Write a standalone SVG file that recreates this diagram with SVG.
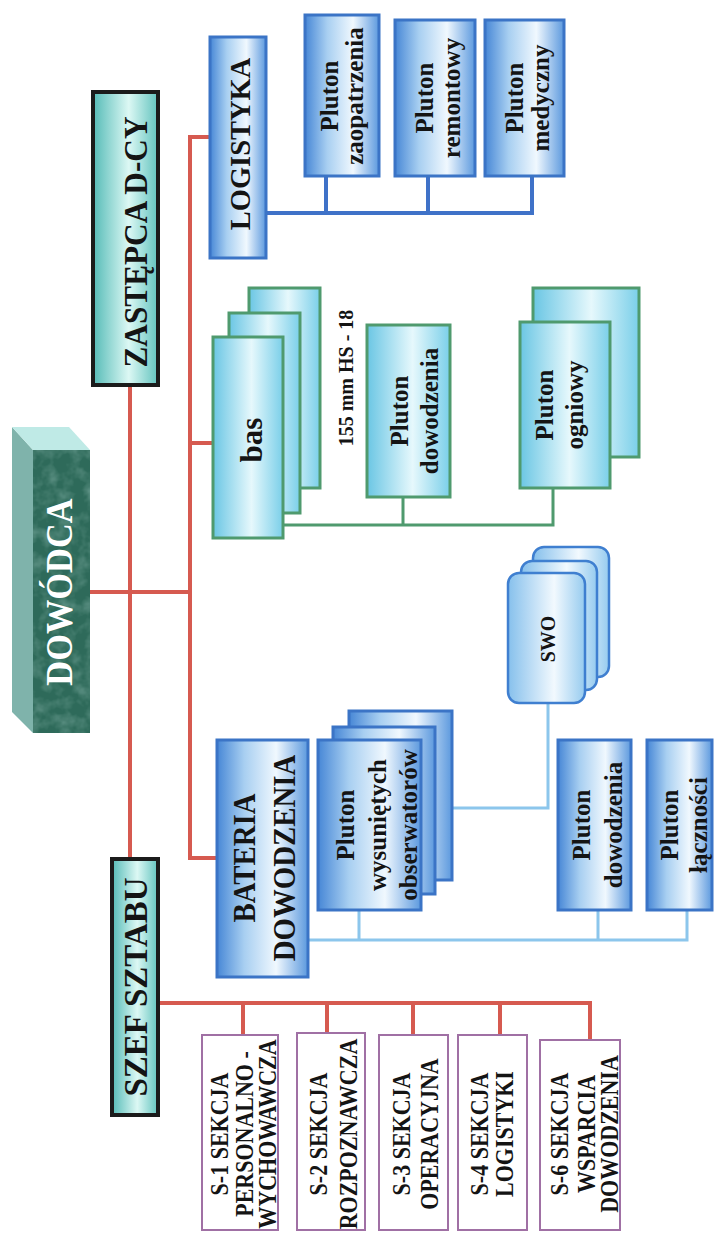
<svg xmlns="http://www.w3.org/2000/svg" width="717" height="1234" viewBox="0 0 717 1234">
  <defs>
    <style>
      .t { font-family: 'Liberation Serif', 'Times New Roman', serif; font-weight: bold; text-anchor: middle; fill: #141414; }
      .blue { fill: url(#gBlue); stroke: #3b74c6; stroke-width: 3; }
      .cyan { fill: url(#gCyan); stroke: #4f9a6e; stroke-width: 3; }
      .teal { fill: url(#gTeal); stroke: #1b1b1b; stroke-width: 4; }
      .sec { fill: #ffffff; stroke: #a070a4; stroke-width: 2; }
      .swo { fill: url(#gSwo); stroke: #3f7fd0; stroke-width: 2.5; }
      .red { stroke: #d65a50; stroke-width: 4; fill: none; }
      .navy { stroke: #3f72c8; stroke-width: 4; fill: none; }
      .green { stroke: #4f9a6e; stroke-width: 3; fill: none; }
      .sky { stroke: #8cc6ec; stroke-width: 3; fill: none; }
    </style>
    <linearGradient id="gBlue" x1="0" y1="0" x2="1" y2="0">
      <stop offset="0" stop-color="#4787d6"/>
      <stop offset="0.3" stop-color="#a8cff1"/>
      <stop offset="0.65" stop-color="#f0f8fe"/>
      <stop offset="1" stop-color="#5c99de"/>
    </linearGradient>
    <linearGradient id="gCyan" x1="0" y1="0" x2="1" y2="0">
      <stop offset="0" stop-color="#6ac6e4"/>
      <stop offset="0.55" stop-color="#e6f8fc"/>
      <stop offset="1" stop-color="#7acfe9"/>
    </linearGradient>
    <linearGradient id="gTeal" x1="0" y1="0" x2="1" y2="0">
      <stop offset="0" stop-color="#55bbb7"/>
      <stop offset="0.55" stop-color="#dcf8f4"/>
      <stop offset="1" stop-color="#62c3be"/>
    </linearGradient>
    <linearGradient id="gSwo" x1="0" y1="0" x2="1" y2="0">
      <stop offset="0" stop-color="#86c0ec"/>
      <stop offset="0.6" stop-color="#f2f9fe"/>
      <stop offset="1" stop-color="#96cbef"/>
    </linearGradient>
    <filter id="mottle" x="0" y="0" width="100%" height="100%">
      <feTurbulence type="fractalNoise" baseFrequency="0.07" numOctaves="3" seed="4"/>
      <feColorMatrix type="matrix" values="0 0 0 0 0.55  0 0 0 0 0.8  0 0 0 0 0.75  0 0 0 1.1 -0.45"/>
    </filter>
  </defs>

  <rect width="717" height="1234" fill="#ffffff"/>

  <!-- connectors -->
  <g id="connectors">
    <!-- command line (red) -->
    <path class="red" d="M130 385 V859"/>
    <path class="red" d="M90 592 H190"/>
    <path class="red" d="M210 137 H190 V858 H217"/>
    <path class="red" d="M190 443 H213"/>
    <path class="red" d="M158 1003 H590 V1040 M243 1003 V1035 M327 1003 V1033 M413 1003 V1035 M500 1003 V1035"/>
    <!-- logistics -->
    <path class="navy" d="M266 213 H532 V176 M326 213 V176 M428 213 V176"/>
    <!-- bas -->
    <path class="green" d="M283 525 H553 V488 M403 525 V497"/>
    <!-- command battery -->
    <path class="sky" d="M308 940 H687 V910 M359 940 V910 M598 940 V910"/>
    <path class="sky" d="M452 808 H548 V703"/>
  </g>

  <!-- commander block -->
  <g id="dowodca">
    <polygon points="12,427 33,450 33,733 12,712" fill="#7fb3ab"/>
    <polygon points="12,427 69,427 90,450 33,450" fill="#bfeae6"/>
    <rect x="33" y="450" width="57" height="283" fill="#2e6a5a"/>
    <rect x="33" y="450" width="57" height="283" filter="url(#mottle)" opacity="0.55"/>
    <text class="t" font-size="37" style="fill:#ffffff" transform="translate(61,592) rotate(-90) scale(0.93,1)" y="11">DOWÓDCA</text>
  </g>

  <g id="zastepca">
    <rect class="teal" x="93" y="92" width="65" height="293"/>
    <text class="t" font-size="34" transform="translate(125.5,242) rotate(-90) scale(0.92,1)" y="21.5">ZASTĘPCA D-CY</text>
  </g>

  <g id="szef-sztabu">
    <rect class="teal" x="112" y="859" width="46" height="256"/>
    <text class="t" font-size="33" transform="translate(135,987) rotate(-90)" y="12">SZEF SZTABU</text>
  </g>

  <!-- logistics -->
  <g id="logistyka">
    <rect class="blue" x="210" y="37" width="56" height="221"/>
    <text class="t" font-size="30" transform="translate(238,144) rotate(-90) scale(0.95,1)" y="12">LOGISTYKA</text>
  </g>
  <g id="pluton-zaopatrzenia">
    <rect class="blue" x="305" y="15" width="74" height="161"/>
    <text class="t" font-size="25" transform="translate(342,96) rotate(-90)"><tspan x="0" y="-4">Pluton</tspan><tspan x="0" y="21">zaopatrzenia</tspan></text>
  </g>
  <g id="pluton-remontowy">
    <rect class="blue" x="395" y="20" width="80" height="156"/>
    <text class="t" font-size="25" transform="translate(435,98) rotate(-90)"><tspan x="0" y="-2">Pluton</tspan><tspan x="0" y="25">remontowy</tspan></text>
  </g>
  <g id="pluton-medyczny">
    <rect class="blue" x="485" y="20" width="79" height="156"/>
    <text class="t" font-size="25" transform="translate(524.5,98) rotate(-90)"><tspan x="0" y="-1.5">Pluton</tspan><tspan x="0" y="24.5">medyczny</tspan></text>
  </g>

  <!-- artillery battalion -->
  <g id="bas">
    <rect class="cyan" x="249" y="288" width="71" height="200"/>
    <rect class="cyan" x="229" y="313" width="71" height="200"/>
    <rect class="cyan" x="213" y="337" width="70" height="201"/>
    <text class="t" font-size="31" transform="translate(248,440) rotate(-90)" y="14">bas</text>
  </g>
  <text id="kaliber" class="t" font-size="20" transform="translate(347,378) rotate(-90)" y="6">155 mm HS - 18</text>
  <g id="pluton-dowodzenia-bas">
    <rect class="cyan" x="367" y="325" width="83" height="172"/>
    <text class="t" font-size="25" transform="translate(408.5,411) rotate(-90)"><tspan x="0" y="-0.5">Pluton</tspan><tspan x="0" y="29.5">dowodzenia</tspan></text>
  </g>
  <g id="pluton-ogniowy">
    <rect class="cyan" x="533" y="288" width="106" height="169"/>
    <rect class="cyan" x="520" y="322" width="90" height="166"/>
    <text class="t" font-size="25" transform="translate(565,405) rotate(-90)"><tspan x="0" y="-12">Pluton</tspan><tspan x="0" y="18">ogniowy</tspan></text>
  </g>

  <!-- command battery -->
  <g id="bateria-dowodzenia">
    <rect class="blue" x="217" y="740" width="91" height="237"/>
    <text class="t" font-size="32" transform="translate(262.5,858) rotate(-90) scale(0.9,1)"><tspan x="0" y="-7.5">BATERIA</tspan><tspan x="0" y="32.5">DOWODZENIA</tspan></text>
  </g>
  <g id="pluton-obserwatorow">
    <rect class="blue" x="349" y="711" width="103" height="169"/>
    <rect class="blue" x="333" y="727" width="102" height="167"/>
    <rect class="blue" x="318" y="740" width="103" height="170"/>
    <text class="t" font-size="25" transform="translate(369.5,825) rotate(-90)"><tspan x="0" y="-15.5">Pluton</tspan><tspan x="0" y="16.5">wysuniętych</tspan><tspan x="0" y="47">obserwatorów</tspan></text>
  </g>
  <g id="swo">
    <rect class="swo" x="533" y="547" width="76" height="130" rx="11"/>
    <rect class="swo" x="521" y="561" width="76" height="129" rx="11"/>
    <rect class="swo" x="508" y="573" width="77" height="130" rx="11"/>
    <text class="t" font-size="20" transform="translate(546.5,639) rotate(-90)" y="8.5">SWO</text>
  </g>
  <g id="pluton-dowodzenia-bd">
    <rect class="blue" x="558" y="740" width="73" height="170"/>
    <text class="t" font-size="25" transform="translate(594.5,825) rotate(-90)"><tspan x="0" y="-4.5">Pluton</tspan><tspan x="0" y="27.5">dowodzenia</tspan></text>
  </g>
  <g id="pluton-lacznosci">
    <rect class="blue" x="647" y="740" width="65" height="170"/>
    <text class="t" font-size="25" transform="translate(679.5,825) rotate(-90)"><tspan x="0" y="-1.5">Pluton</tspan><tspan x="0" y="27.5">łączności</tspan></text>
  </g>

  <!-- staff sections -->
  <g id="s1">
    <rect class="sec" x="202" y="1035" width="76" height="195"/>
    <text class="t" font-size="25" transform="translate(240,1134) rotate(-90) scale(0.88,1)"><tspan x="0" y="-12">S-1 SEKCJA</tspan><tspan x="0" y="13">PERSONALNO -</tspan><tspan x="0" y="36.5">WYCHOWAWCZA</tspan></text>
  </g>
  <g id="s2">
    <rect class="sec" x="297" y="1033" width="68" height="197"/>
    <text class="t" font-size="25" transform="translate(331,1134) rotate(-90) scale(0.88,1)"><tspan x="0" y="-4">S-2 SEKCJA</tspan><tspan x="0" y="26">ROZPOZNAWCZA</tspan></text>
  </g>
  <g id="s3">
    <rect class="sec" x="379" y="1035" width="69" height="195"/>
    <text class="t" font-size="25" transform="translate(413.5,1134) rotate(-90) scale(0.88,1)"><tspan x="0" y="-3.5">S-3 SEKCJA</tspan><tspan x="0" y="24.5">OPERACYJNA</tspan></text>
  </g>
  <g id="s4">
    <rect class="sec" x="458" y="1035" width="69" height="195"/>
    <text class="t" font-size="25" transform="translate(492.5,1134) rotate(-90) scale(0.88,1)"><tspan x="0" y="-4.5">S-4 SEKCJA</tspan><tspan x="0" y="20.5">LOGISTYKI</tspan></text>
  </g>
  <g id="s6">
    <rect class="sec" x="540" y="1040" width="80" height="190"/>
    <text class="t" font-size="25" transform="translate(580,1134) rotate(-90) scale(0.88,1)"><tspan x="0" y="-12">S-6 SEKCJA</tspan><tspan x="0" y="15">WSPARCIA</tspan><tspan x="0" y="38">DOWODZENIA</tspan></text>
  </g>
</svg>
